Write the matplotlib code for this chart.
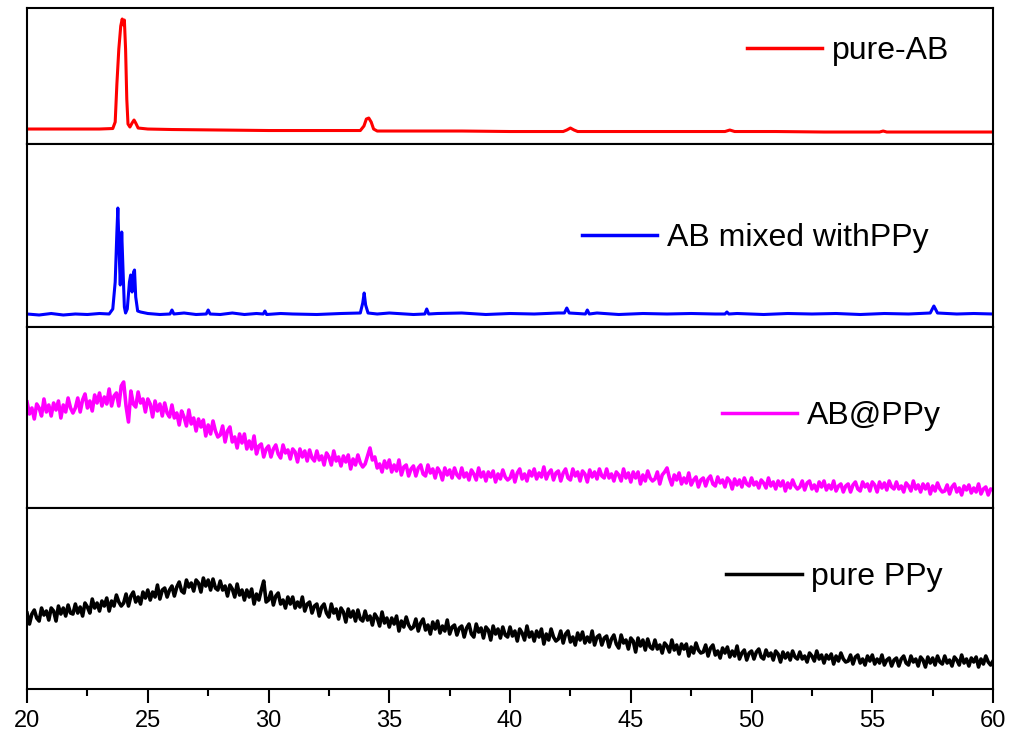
import numpy as np
import matplotlib.pyplot as plt
from matplotlib.ticker import MultipleLocator

# intensities are in arbitrary units

# pure-AB (sharp peaks)
ab_x = [20.0, 21.0, 22.0, 23.0, 23.55, 23.65, 23.72, 23.8, 23.88, 23.94,
        23.99, 24.03, 24.08, 24.13, 24.18, 24.26, 24.35, 24.43, 24.5, 24.6,
        25.0, 26.0, 28.0, 30.0, 32.0, 33.8, 33.95, 34.05, 34.15, 34.25,
        34.35, 34.5, 36.0, 38.0, 40.0, 42.2, 42.35, 42.5, 42.65, 42.8,
        45.0, 47.0, 48.9, 49.1, 49.3, 51.0, 53.0, 55.3, 55.45, 55.6,
        57.0, 60.0]
ab_y = [15, 15, 15, 15, 15.5, 22, 60, 95, 118, 125,
        119, 124, 95, 45, 20, 17, 21, 24, 21, 16,
        15, 14.5, 14, 13.5, 13.5, 13.5, 18, 25, 26, 22,
        15, 13, 13, 13, 12.5, 12.5, 14, 16, 14, 12.5,
        12.5, 12.5, 12.5, 14, 12.5, 12.5, 12, 12, 13, 12,
        12, 12]

# AB mixed with PPy
mix_x = [20.0, 20.5, 21.0, 21.5, 22.0, 22.5, 23.0, 23.4, 23.55, 23.65,
         23.72, 23.76, 23.82, 23.86, 23.92, 23.97, 24.03, 24.08, 24.15, 24.24,
         24.29, 24.35, 24.41, 24.45, 24.5, 24.58, 24.7, 25.0, 25.5, 25.92,
         26.0, 26.08, 26.5, 27.0, 27.42, 27.5, 27.58, 28.0, 28.5, 29.0,
         29.5, 29.78, 29.85, 29.92, 30.5, 31.0, 32.0, 33.0, 33.8, 33.9,
         33.96, 34.02, 34.12, 34.5, 35.0, 36.0, 36.47, 36.55, 36.63, 37.0,
         38.0, 39.0, 40.0, 41.0, 42.0, 42.25, 42.35, 42.45, 42.8, 43.12,
         43.2, 43.28, 43.6, 44.5, 45.5, 46.5, 47.5, 48.5, 48.9, 48.98,
         49.06, 49.4, 50.5, 51.5, 52.5, 53.5, 54.5, 55.5, 56.5, 57.4,
         57.55, 57.7, 58.5, 59.2, 60.0]
mix_y = [13, 12, 13.5, 12, 13, 12.5, 13.5, 13, 18, 45,
         95, 119, 70, 42, 95, 60, 20, 14, 18, 45,
         52, 35, 55, 57, 30, 16, 15, 13.5, 12.5, 13,
         17, 13, 14, 12.5, 13, 17, 13, 12.5, 14, 12.5,
         13.5, 13, 16, 12.5, 13.5, 13, 12.5, 13.5, 14, 24,
         34, 22, 14, 13, 14, 12.5, 13, 18, 13, 13.5,
         14, 12.5, 13.5, 13, 14, 14, 19, 14, 13.5, 13,
         17, 13, 14, 12.5, 13.5, 13, 13.5, 13, 13, 15,
         13, 13.5, 12.5, 13.5, 13, 13.5, 12.5, 13.5, 13, 14,
         21, 14, 13, 13.5, 13]

# AB@PPy, 20-60 deg every 0.1 deg (one row = 2 deg)
abppy_y = [
    106, 94, 100, 89, 104, 100, 92, 109, 96, 103, 92, 105, 98, 107, 90, 103, 96, 110, 100, 95,
    100, 110, 96, 108, 114, 100, 107, 97, 113, 105, 115, 102, 111, 104, 119, 102, 112, 115, 102, 122,
    126, 102, 86, 117, 104, 101, 116, 105, 109, 96, 109, 104, 91, 107, 97, 104, 92, 105, 95, 91,
    103, 90, 95, 83, 97, 91, 82, 98, 84, 90, 77, 89, 81, 88, 72, 83, 74, 87, 77, 71,
    73, 82, 66, 77, 81, 66, 71, 60, 74, 65, 74, 59, 67, 59, 72, 54, 62, 64, 51, 59,
    62, 51, 59, 63, 54, 50, 63, 55, 58, 49, 59, 56, 46, 59, 51, 57, 47, 58, 50, 47,
    57, 48, 52, 43, 55, 51, 43, 57, 47, 51, 42, 52, 46, 53, 39, 49, 43, 53, 45, 41,
    44, 52, 60, 48, 51, 40, 44, 36, 47, 40, 48, 36, 43, 37, 48, 33, 41, 43, 32, 39,
    42, 32, 40, 43, 34, 32, 43, 35, 39, 30, 40, 36, 28, 40, 33, 38, 30, 40, 33, 30,
    40, 31, 35, 28, 38, 34, 28, 40, 31, 36, 27, 36, 31, 37, 26, 34, 29, 38, 31, 28,
    30, 37, 26, 35, 39, 29, 34, 27, 37, 32, 39, 29, 35, 31, 41, 29, 35, 38, 28, 35,
    37, 27, 35, 39, 30, 28, 39, 32, 36, 27, 37, 34, 26, 38, 31, 36, 29, 39, 32, 30,
    39, 30, 34, 27, 36, 33, 27, 39, 30, 35, 26, 36, 30, 36, 24, 33, 27, 37, 30, 27,
    29, 36, 24, 33, 36, 40, 30, 23, 33, 28, 35, 24, 30, 25, 35, 23, 28, 31, 21, 28,
    30, 22, 29, 32, 24, 22, 31, 25, 28, 21, 30, 27, 19, 29, 23, 28, 21, 30, 24, 22,
    30, 23, 26, 20, 28, 25, 20, 30, 22, 26, 19, 27, 22, 27, 17, 25, 20, 28, 22, 19,
    21, 27, 18, 25, 27, 19, 23, 17, 26, 21, 27, 18, 23, 19, 27, 17, 22, 24, 16, 22,
    24, 16, 23, 26, 19, 17, 26, 21, 24, 17, 26, 23, 16, 26, 20, 25, 18, 27, 21, 19,
    26, 19, 22, 16, 25, 22, 17, 27, 19, 23, 16, 24, 19, 24, 14, 22, 17, 25, 19, 16,
    17, 23, 14, 21, 24, 16, 20, 13, 22, 18, 23, 15, 20, 16, 24, 14, 19, 21, 13, 19,
    18,
]

# pure PPy, 20-60 deg every 0.1 deg (one row = 2 deg)
ppy_y = [
    76, 65, 75, 79, 71, 68, 81, 74, 78, 69, 81, 78, 68, 83, 75, 81, 73, 84, 76, 75,
    85, 76, 82, 73, 86, 82, 76, 90, 81, 86, 78, 88, 83, 91, 78, 88, 83, 94, 87, 83,
    86, 95, 83, 93, 97, 87, 92, 85, 97, 91, 99, 89, 97, 92, 104, 90, 99, 101, 92, 99,
    103, 93, 102, 107, 98, 96, 109, 102, 106, 98, 109, 106, 97, 111, 103, 109, 99, 110, 101, 99,
    108, 99, 103, 93, 104, 100, 92, 105, 94, 99, 89, 99, 92, 100, 85, 95, 89, 99, 108, 87,
    89, 97, 84, 93, 96, 85, 89, 81, 92, 85, 92, 81, 87, 82, 92, 78, 85, 87, 76, 83,
    85, 73, 82, 85, 76, 72, 85, 76, 80, 70, 81, 77, 67, 80, 72, 78, 68, 79, 70, 68,
    78, 69, 73, 64, 75, 71, 63, 77, 66, 71, 62, 71, 65, 73, 58, 68, 62, 72, 64, 60,
    62, 70, 58, 66, 70, 59, 64, 55, 67, 60, 68, 56, 63, 58, 69, 55, 62, 64, 54, 61,
    63, 52, 61, 65, 55, 52, 65, 57, 61, 51, 62, 59, 49, 63, 55, 60, 51, 62, 54, 52,
    62, 53, 58, 48, 60, 56, 49, 63, 52, 57, 48, 58, 52, 60, 45, 55, 49, 60, 52, 48,
    50, 58, 46, 55, 58, 47, 52, 44, 56, 49, 57, 46, 52, 47, 58, 44, 52, 54, 44, 51,
    53, 42, 50, 54, 45, 41, 54, 46, 49, 40, 51, 48, 37, 51, 43, 49, 39, 50, 42, 40,
    49, 40, 44, 36, 46, 43, 37, 49, 39, 44, 35, 45, 40, 45, 33, 42, 36, 46, 39, 36,
    37, 44, 33, 41, 44, 34, 38, 31, 41, 36, 42, 32, 38, 33, 43, 30, 36, 39, 29, 36,
    38, 30, 37, 40, 32, 30, 39, 33, 36, 29, 38, 35, 27, 37, 31, 36, 29, 38, 32, 30,
    37, 30, 33, 27, 36, 33, 28, 38, 30, 34, 26, 34, 30, 35, 25, 33, 28, 36, 30, 27,
    28, 34, 25, 32, 34, 26, 30, 24, 33, 28, 34, 25, 30, 26, 34, 24, 29, 31, 23, 29,
    31, 23, 30, 33, 26, 24, 33, 27, 30, 23, 32, 29, 22, 32, 26, 31, 24, 33, 27, 25,
    33, 26, 29, 23, 32, 29, 24, 34, 26, 30, 23, 31, 27, 32, 22, 30, 25, 33, 27, 24,
    28,
]


def plot_panel(ax, x, y, color, label, ymax, legpos, lw=2.0):
    """Draw one XRD pattern in its own stacked panel."""
    ax.plot(x, y, color=color, linewidth=lw, label=label)
    ax.set_xlim(20, 60)
    ax.set_ylim(0, ymax)
    ax.set_yticks([])
    leg = ax.legend(
        loc="center",
        bbox_to_anchor=legpos,
        frameon=False,
        fontsize=23,
        handlelength=2.35,
        handletextpad=0.3,
        borderaxespad=0.0,
        borderpad=0.0,
    )
    for hl in leg.get_lines():
        hl.set_linewidth(2.5)
    for sp in ax.spines.values():
        sp.set_linewidth(1.5)


if __name__ == "__main__":
    plt.rc("font", family=["Liberation Sans", "DejaVu Sans"])

    fig = plt.figure(figsize=(10.13, 7.42), dpi=100)

    # panel boundaries (figure fractions), top to bottom
    left, width = 0.0267, 0.9536
    ax1 = fig.add_axes([left, 0.8059, width, 0.1833])
    ax2 = fig.add_axes([left, 0.5593, width, 0.2466])
    ax3 = fig.add_axes([left, 0.3154, width, 0.2439])
    ax4 = fig.add_axes([left, 0.0714, width, 0.2439])

    xgrid = np.linspace(20, 60, len(abppy_y))

    plot_panel(ax1, ab_x, ab_y, "#ff0000", "pure-AB", 136, (0.850, 0.684), lw=2.2)
    plot_panel(ax2, mix_x, mix_y, "#0000ff", "AB mixed withPPy", 183, (0.754, 0.486), lw=2.2)
    plot_panel(ax3, xgrid, abppy_y, "#ff00ff", "AB@PPy", 181, (0.833, 0.508), lw=2.6)
    plot_panel(ax4, xgrid, ppy_y, "#000000", "pure PPy", 181, (0.836, 0.619), lw=2.6)

    for ax in [ax1, ax2, ax3]:
        ax.set_xticks([])

    ax4.xaxis.set_major_locator(MultipleLocator(5))
    ax4.xaxis.set_minor_locator(MultipleLocator(2.5))
    ax4.tick_params(axis="x", which="major", direction="out", length=10,
                    width=1.5, labelsize=17, pad=5)
    ax4.tick_params(axis="x", which="minor", direction="out", length=5,
                    width=1.5)

    fig.savefig("out.png", dpi=100)
